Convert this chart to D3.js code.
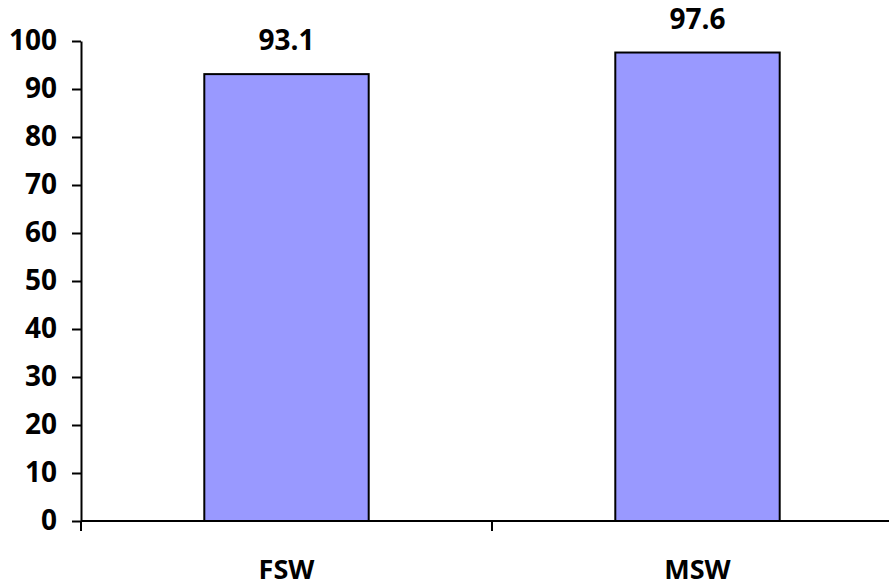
<!DOCTYPE html>
<html>
<head>
<meta charset="utf-8">
<script src="https://cdn.jsdelivr.net/npm/d3@7"></script>
<style>
  body { margin: 0; background: #fff; }
  text { font-family: "Open Sans", Lato, sans-serif; font-weight: bold; fill: #000; }
</style>
</head>
<body>
<div id="chart"></div>
<script>
// data
const groups = ["FSW", "MSW"];
const values = [93.1, 97.6];
const yTicks = [0, 10, 20, 30, 40, 50, 60, 70, 80, 90, 100];

const width = 889, height = 586;
const margin = { top: 41, right: -14, bottom: 65, left: 81 };

const svg = d3.select("#chart").append("svg")
  .attr("width", width)
  .attr("height", height);

const x = d3.scaleBand()
  .domain(groups)
  .range([margin.left, width - margin.right])
  .paddingInner(0)
  .paddingOuter(0);

const y = d3.scaleLinear()
  .domain([0, 100])
  .range([height - margin.bottom, margin.top]);

const barW = x.bandwidth() * 0.4;

// bars
svg.selectAll("rect.bar")
  .data(groups)
  .enter().append("rect")
  .attr("class", "bar")
  .attr("x", (d) => x(d) + x.bandwidth() / 2 - barW / 2)
  .attr("y", (d, i) => y(values[i]))
  .attr("width", barW)
  .attr("height", (d, i) => y(0) - y(values[i]))
  .style("fill", "#9999ff")
  .style("stroke", "#000")
  .style("stroke-width", 2);

// value labels
svg.selectAll("text.val")
  .data(groups)
  .enter().append("text")
  .attr("class", "val")
  .attr("x", (d) => x(d) + x.bandwidth() / 2)
  .attr("y", (d, i) => y(values[i]) - 24)
  .attr("text-anchor", "middle")
  .style("font-size", "28px")
  .text((d, i) => values[i].toFixed(1));

// y axis
const yAxis = svg.append("g")
  .attr("transform", `translate(${margin.left},0)`)
  .call(d3.axisLeft(y).tickValues(yTicks).tickSize(9).tickPadding(15).tickSizeOuter(0));
yAxis.select(".domain").attr("stroke", "#000").attr("stroke-width", 2);
yAxis.selectAll(".tick line").attr("stroke", "#000").attr("stroke-width", 2);
yAxis.selectAll(".tick text")
  .style("font-family", "'Open Sans', Lato, sans-serif")
  .style("font-weight", "bold")
  .style("font-size", "28px");

// x axis line with tick marks at band edges
const xAxisG = svg.append("g")
  .attr("transform", `translate(0,${y(0)})`);
xAxisG.append("line")
  .attr("x1", margin.left)
  .attr("x2", width)
  .attr("stroke", "#000")
  .attr("stroke-width", 2);
const edges = groups.map((d) => x(d));
xAxisG.selectAll("line.tk")
  .data(edges)
  .enter().append("line")
  .attr("class", "tk")
  .attr("x1", (d) => d)
  .attr("x2", (d) => d)
  .attr("y1", 0)
  .attr("y2", 10)
  .attr("stroke", "#000")
  .attr("stroke-width", 2);

// category labels
svg.selectAll("text.cat")
  .data(groups)
  .enter().append("text")
  .attr("class", "cat")
  .attr("x", (d) => x(d) + x.bandwidth() / 2)
  .attr("y", 579)
  .attr("text-anchor", "middle")
  .style("font-size", "27px")
  .text((d) => d);
</script>
</body>
</html>
